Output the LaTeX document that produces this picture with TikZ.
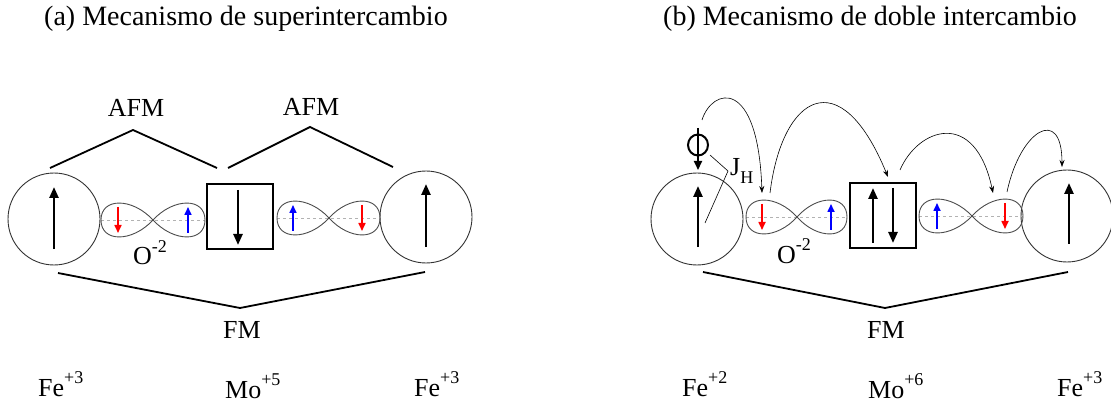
\documentclass[tikz,border=0pt]{standalone}
\usepackage{fontspec}
\setmainfont{Liberation Serif}
\usetikzlibrary{arrows.meta}
\newcommand{\supx}[1]{\raisebox{0.5em}{\fontsize{18}{18}\selectfont #1}}
\newcommand{\subx}[1]{\raisebox{-0.27em}{\fontsize{18}{18}\selectfont #1}}
\newcommand{\orbpair}[4]{%
  \draw[axisline] (#1,#4) -- (#3,#4);
  \draw[lobe] (#2,#4) .. controls ({#2-0.4*(#2-#1)},#4-22.6) and (#1,#4-22.6) .. (#1,#4)
    .. controls (#1,#4+22.6) and ({#2-0.4*(#2-#1)},#4+22.6) .. (#2,#4)
    .. controls ({#2+0.4*(#3-#2)},#4-22.6) and (#3,#4-22.6) .. (#3,#4)
    .. controls (#3,#4+22.6) and ({#2+0.4*(#3-#2)},#4+22.6) .. cycle;
}
\tikzset{
  ion/.style={circle, draw=black!80, line width=0.9pt, minimum size=92pt, inner sep=0pt},
  mobox/.style={draw, line width=2.2pt, minimum width=66pt, minimum height=65pt, inner sep=0pt},
  spin/.style={line width=2.4pt, -{Triangle[length=11pt,width=9pt]}},
  espin/.style={line width=1.6pt, -{Triangle[length=8pt,width=7pt]}},
  bond/.style={line width=1.8pt},
  hop/.style={line width=0.6pt, -{Stealth[length=7pt,width=5pt]}},
  thinline/.style={line width=0.6pt},
  lbl/.style={font=\fontsize{26}{30}\selectfont, inner sep=0pt, anchor=base west},
  ttl/.style={font=\fontsize{28}{32}\selectfont, inner sep=0pt, anchor=base west},
  lobe/.style={draw=black!70, line width=0.9pt},
  axisline/.style={draw=black!30, dashed, line width=0.5pt},
}
\begin{document}
\begin{tikzpicture}[x=1pt,y=-1pt]
\useasboundingbox (0,0) rectangle (1111,406);

% ---------- titles ----------
\node[ttl] (ta) at (44,26) {(a) Mecanismo de superintercambio};
\node[ttl] (tb) at (663,26) {(b) Mecanismo de doble intercambio};

% ---------- panel (a) ----------
\node[ion] (fea1) at (54,219) {};
\node[mobox] (moa) at (240,216.5) {};
\node[ion] (fea2) at (426,217) {};
\draw[spin] (54,249) -- (54,187);
\draw[spin] (238,190) -- (238,245);
\draw[spin] (426,247) -- (426,184);

\orbpair{101}{153}{205}{220}
\orbpair{277}{329}{380}{218}
\draw[espin, red] (118,207) -- (118,233);
\draw[espin, blue] (188,233) -- (188,207);
\draw[espin, blue] (293,231) -- (293,205);
\draw[espin, red] (362,205) -- (362,231);

\node[lbl] (oa) at (133,265) {O\supx{-2}};

% AFM / FM brackets
\coordinate (a1) at (50,168);
\coordinate (a2) at (133,130);
\coordinate (a3) at (217,168);
\coordinate (a4) at (228,168);
\coordinate (a5) at (310,127);
\coordinate (a6) at (393,167);
\draw[bond] (a1) -- (a2) -- (a3);
\draw[bond] (a4) -- (a5) -- (a6);
\node[lbl, anchor=base] (afm1) at (136,117) {AFM};
\node[lbl, anchor=base] (afm2) at (311,116) {AFM};

\coordinate (f1) at (58,273);
\coordinate (f2) at (240,308);
\coordinate (f3) at (425,272);
\draw[bond] (f1) -- (f2) -- (f3);
\node[lbl, anchor=base] (fma) at (242,338) {FM};

\node[lbl] (la1) at (38,396) {Fe\supx{+3}};
\node[lbl] (la2) at (225,398) {Mo\supx{+5}};
\node[lbl] (la3) at (414,396) {Fe\supx{+3}};

% ---------- panel (b) ----------
\node[ion] (feb1) at (697,219) {};
\node[mobox] (mob) at (883,215.5) {};
\node[ion] (feb2) at (1067,216) {};
\draw[spin] (698,247) -- (698,186);
\draw[spin] (873,243) -- (873,188);
\draw[spin] (893,188) -- (893,243);
\draw[spin] (1069,244) -- (1069,183);

\orbpair{746}{797}{847}{217}
\orbpair{919}{972}{1023}{216}
\draw[espin, red] (762,204) -- (762,230);
\draw[espin, blue] (831,230) -- (831,204);
\draw[espin, blue] (937,229) -- (937,203);
\draw[espin, red] (1005,203) -- (1005,229);

\node[lbl] (ob) at (777,263) {O\supx{-2}};

% incoming electron and Hund coupling
\draw[line width=2pt] (698,145) ellipse [x radius=10pt, y radius=10.5pt];
\draw[line width=2pt, -{Triangle[length=9pt,width=8pt]}] (698,128) -- (698,170);
\node[lbl] (jh) at (730,176) {J\subx{H}};
\coordinate (jhc) at (728,171);
\draw[thinline] (jhc) -- (710,155);
\draw[thinline] (jhc) -- (705,223);

% hopping arrows
\coordinate (h0) at (702,120);
\coordinate (h1) at (762,193);
\coordinate (h2) at (770,193);
\coordinate (h3) at (888,177);
\coordinate (h4) at (900,170);
\coordinate (h5) at (993,193);
\coordinate (h6) at (1007,192);
\coordinate (h7) at (1062,167);
\draw[hop] (h0) .. controls (712,88) and (758,76) .. (h1);
\draw[hop] (h2) .. controls (782,95) and (840,60) .. (h3);
\draw[hop] (h4) .. controls (918,128) and (975,108) .. (h5);
\draw[hop] (h6) .. controls (1020,130) and (1062,105) .. (h7);

\coordinate (g1) at (703,272);
\coordinate (g2) at (885,308);
\coordinate (g3) at (1068,272);
\draw[bond] (g1) -- (g2) -- (g3);
\node[lbl, anchor=base] (fmb) at (886,338) {FM};

\node[lbl] (lb1) at (682,396) {Fe\supx{+2}};
\node[lbl] (lb2) at (868,398) {Mo\supx{+6}};
\node[lbl] (lb3) at (1057,396) {Fe\supx{+3}};
\end{tikzpicture}
\end{document}
